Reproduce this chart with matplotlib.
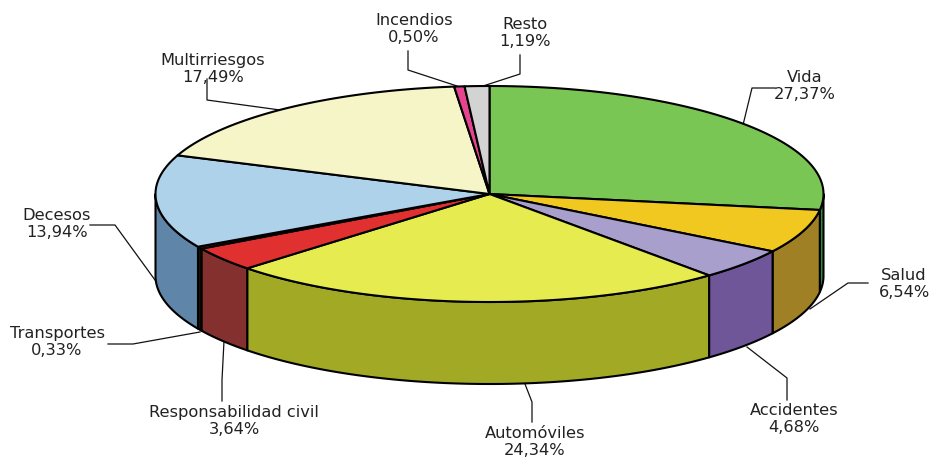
import numpy as np
import matplotlib
matplotlib.use("Agg")
import matplotlib.pyplot as plt
from matplotlib.patches import Polygon

# Data
categories = ["Vida", "Salud", "Accidentes", "Automóviles", "Responsabilidad civil",
              "Transportes", "Decesos", "Multirriesgos", "Incendios", "Resto"]
values = [27.37, 6.54, 4.68, 24.34, 3.64, 0.33, 13.94, 17.49, 0.50, 1.19]
value_labels = ["27,37%", "6,54%", "4,68%", "24,34%", "3,64%",
                "0,33%", "13,94%", "17,49%", "0,50%", "1,19%"]

# Colours of the top face and the side wall
top_colors = ["#7AC655", "#F0C820", "#A99FCC", "#E6EC50", "#E03030",
              "#7A1E1E", "#AFD2EB", "#F5F5C8", "#E5458F", "#D3D3D3"]
side_colors = ["#2E8B3E", "#A08025", "#6F5699", "#A2AA25", "#83302E",
               "#1A1408", "#5F85A8", "#F5F5C8", "#E5458F", "#D3D3D3"]

# Pie geometry in pixels
cx, cy = 489.5, 194
rx, ry = 334, 108
depth = 82
lw = 1.5

# Text centre and leader line for each label
text_pos = [(805, 86), (904, 284), (794, 419), (535, 442), (234, 421),
            (57, 342), (57, 224), (213, 69), (414, 29), (525, 33)]
leaders = [[(743, 125), (752, 88), (775, 88)],
           [(810, 309), (848, 283), (868, 283)],
           [(747, 347), (787, 378), (787, 400)],
           [(525, 384), (532, 402), (532, 422)],
           [(224, 341), (222, 380), (222, 401)],
           [(200, 332), (133, 344), (108, 344)],
           [(155, 280), (115, 225), (90, 225)],
           [(280, 110), (207, 100), (207, 79)],
           [(457, 86), (408, 70), (408, 51)],
           [(480, 87), (520, 74), (520, 55)]]


def ellipse_pts(t, dy=0):
  return np.column_stack([cx + rx * np.sin(t), cy + dy - ry * np.cos(t)])


plt.rcParams['font.family'] = ['DejaVu Sans']
fig = plt.figure(figsize=(9.33, 4.59), dpi=100)
ax = fig.add_axes([0, 0, 1, 1])
ax.set_xlim(0, 933)
ax.set_ylim(459, 0)
ax.axis("off")

edges = np.cumsum([0] + values) / sum(values) * 2 * np.pi

# Side walls, only the front half of the ellipse is visible
for i in range(len(values)):
  a = max(edges[i], np.pi / 2)
  b = min(edges[i + 1], 3 * np.pi / 2)
  if b <= a:
    continue
  t = np.linspace(a, b, 80)
  pts = np.vstack([ellipse_pts(t), ellipse_pts(t[::-1], depth)])
  ax.add_patch(Polygon(pts, closed=True, facecolor=side_colors[i], edgecolor="black",
                       linewidth=lw, joinstyle="round", zorder=2))

# Top faces
for i in range(len(values)):
  t = np.linspace(edges[i], edges[i + 1], 120)
  pts = np.vstack([[cx, cy], ellipse_pts(t)])
  ax.add_patch(Polygon(pts, closed=True, facecolor=top_colors[i], edgecolor="black",
                       linewidth=lw, joinstyle="round", zorder=3))

# Labels and leader lines
for i in range(len(categories)):
  line = np.array(leaders[i])
  ax.plot(line[:, 0], line[:, 1], color="#111111", linewidth=0.9, zorder=1)
  ax.text(text_pos[i][0], text_pos[i][1], categories[i] + "\n" + value_labels[i],
          ha="center", va="center", fontsize=11.7, color="#222222", linespacing=1.2, zorder=4)

fig.savefig("out.png", dpi=100)
